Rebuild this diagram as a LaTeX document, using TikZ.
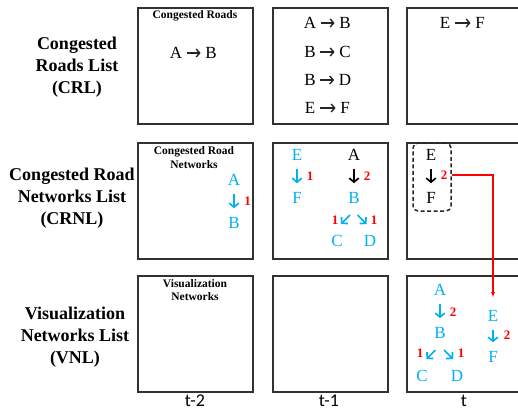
\documentclass[tikz,border=0pt]{standalone}
\usepackage{fontspec}
\setmainfont{Liberation Serif}
\newfontfamily\axisfont{Carlito}
\usetikzlibrary{arrows.meta,calc}
\definecolor{netblue}{RGB}{0,176,240}
\definecolor{framegray}{RGB}{50,50,50}
\definecolor{wred}{RGB}{255,0,0}

\tikzset{
  panel/.style={draw=framegray, line width=1.5pt, minimum width=115pt,
    minimum height=116pt, inner sep=0pt, anchor=north west},
  rowlabel/.style={font=\fontsize{18}{22}\selectfont\bfseries, align=center},
  paneltitle/.style={font=\fontsize{11.5}{13.5}\selectfont\bfseries, align=center},
  road/.style={font=\fontsize{17}{20}\selectfont, inner sep=0pt},
  roadarrow/.style={draw=black!85, line width=1.4pt,
    -{Straight Barb[length=3.5pt,width=8pt]}, shorten <=4.5pt, shorten >=4.5pt},
  netnode/.style={font=\fontsize{17}{20}\selectfont, text=netblue, inner sep=0pt},
  blknode/.style={netnode, text=black},
  weight/.style={font=\fontsize{13}{15}\selectfont\bfseries, text=wred, inner sep=0pt},
  netarrow/.style={draw=netblue, line width=1.7pt,
    -{Straight Barb[length=4pt,width=9.5pt]}, shorten <=8.5pt, shorten >=9pt},
  blkarrow/.style={netarrow, draw=black},
  diagarrow/.style={draw=netblue, line width=1.7pt,
    -{Straight Barb[length=4pt,width=9pt]}},
  groupbox/.style={draw=black!85, dashed, dash pattern=on 4pt off 2.5pt,
    line width=1.5pt, rounded corners=5pt, minimum width=38pt,
    minimum height=68pt, inner sep=0pt},
  linkarrow/.style={draw=wred, line width=1.2pt, -{Latex[length=5pt,width=4pt]},
    shorten >=13pt},
  timelabel/.style={font=\axisfont\fontsize{18}{20}\selectfont},
}

% one congested road "from -> to", centred at (x,y)
\newcommand{\roadpair}[5]{%
  \node[road] (#1-a) at ({#2-18},#3) {#4};
  \node[road] (#1-b) at ({#2+17},#3) {#5};
  \draw[roadarrow] (#1-a) -- (#1-b);
}

\begin{document}
\begin{tikzpicture}[x=1pt,y=-1pt]
  \clip (0,0) rectangle (518,413);

  % row labels
  \node[rowlabel] (crl)  at (77,67)  {Congested\\Roads List\\(CRL)};
  \node[rowlabel] (crnl) at (72,198) {Congested Road\\Networks List\\(CRNL)};
  \node[rowlabel] (vnl)  at (75,337) {Visualization\\Networks List\\(VNL)};

  % panels: rows CRL / CRNL / VNL, columns t-2 / t-1 / t
  \node[panel] (p11) at (137,7)   {};
  \node[panel] (p12) at (272,7)   {};
  \node[panel] (p13) at (406,7)   {};
  \node[panel] (p21) at (137,142) {};
  \node[panel] (p22) at (272,142) {};
  \node[panel] (p23) at (406,142) {};
  \node[panel] (p31) at (137,275) {};
  \node[panel] (p32) at (272,275) {};
  \node[panel] (p33) at (406,275) {};

  % time axis
  \node[timelabel] (t2) at (195,401) {t-2};
  \node[timelabel] (t1) at (329,401) {t-1};
  \node[timelabel] (t0) at (464,401) {t};

  % ---- CRL row ----
  \node[paneltitle] (ttl1) at (195,16) {Congested Roads};
  \roadpair{r11}{194}{53}{A}{B}
  \roadpair{r21}{328}{23}{A}{B}
  \roadpair{r22}{328}{52}{B}{C}
  \roadpair{r23}{328}{80}{B}{D}
  \roadpair{r24}{328}{108}{E}{F}
  \roadpair{r31}{463}{23}{E}{F}

  % ---- CRNL row, t-2 ----
  \node[paneltitle] (ttl2) at (194,157.5) {Congested Road\\Networks};
  \node[netnode] (a1) at (234,180) {A};
  \node[netnode] (b1) at (234,223) {B};
  \draw[netarrow] (a1) -- (b1);
  \node[weight] (wa1) at (247.5,201) {1};

  % ---- CRNL row, t-1 ----
  \node[netnode] (e2) at (297,155) {E};
  \node[netnode] (f2) at (297,198) {F};
  \draw[netarrow] (e2) -- (f2);
  \node[weight] (we2) at (310,176) {1};

  \node[blknode] (a2) at (354,155) {A};
  \node[netnode] (b2) at (354,198) {B};
  \node[netnode] (c2) at (337,241) {C};
  \node[netnode] (d2) at (370,241) {D};
  \draw[blkarrow] (a2) -- (b2);
  \node[weight] (wa2) at (367,176) {2};
  \coordinate (bc2) at ($(b2)!0.5!(c2)$);
  \coordinate (bd2) at ($(b2)!0.5!(d2)$);
  \draw[diagarrow] ($(bc2)+(4.5,-4.5)$) -- ($(bc2)+(-4.5,4.5)$);
  \draw[diagarrow] ($(bd2)+(-4.5,-4.5)$) -- ($(bd2)+(4.5,4.5)$);
  \node[weight] (wc2) at (335,220) {1};
  \node[weight] (wd2) at (374,220) {1};

  % ---- CRNL row, t ----
  \node[groupbox] (grp) at (432,177) {};
  \node[blknode] (e3) at (431,155) {E};
  \node[blknode] (f3) at (431,198) {F};
  \draw[blkarrow] (e3) -- (f3);
  \node[weight] (we3) at (444,175) {2};

  % ---- VNL row ----
  \node[paneltitle] (ttl3) at (195,290) {Visualization\\Networks};

  \node[netnode] (a4) at (440,290) {A};
  \node[netnode] (b4) at (440,333) {B};
  \node[netnode] (c4) at (422,376) {C};
  \node[netnode] (d4) at (457,376) {D};
  \draw[netarrow] (a4) -- (b4);
  \node[weight] (wa4) at (453,312) {2};
  \coordinate (bc4) at ($(b4)!0.5!(c4)$);
  \coordinate (bd4) at ($(b4)!0.5!(d4)$);
  \draw[diagarrow] ($(bc4)+(4.5,-4.5)$) -- ($(bc4)+(-4.5,4.5)$);
  \draw[diagarrow] ($(bd4)+(-4.5,-4.5)$) -- ($(bd4)+(4.5,4.5)$);
  \node[weight] (wc4) at (420,353) {1};
  \node[weight] (wd4) at (461,353) {1};

  \node[netnode] (e4) at (493,316) {E};
  \node[netnode] (f4) at (493,357) {F};
  \draw[netarrow] (e4) -- (f4);
  \node[weight] (we4) at (507,335) {2};

  % carried-over network
  \draw[linkarrow] (grp.east |- we3) -| (e4);
\end{tikzpicture}
\end{document}
